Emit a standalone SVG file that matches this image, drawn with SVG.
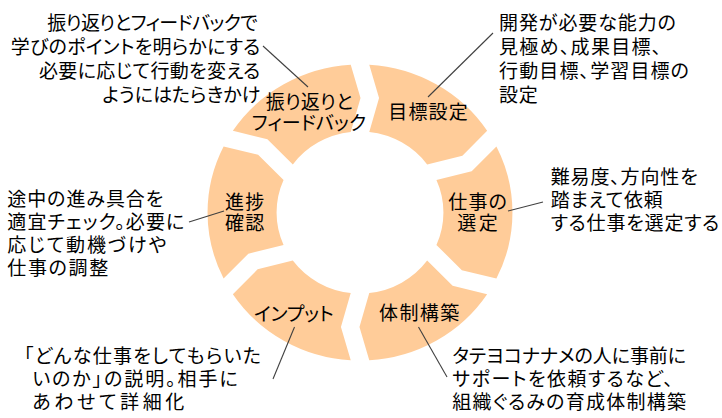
<svg xmlns="http://www.w3.org/2000/svg" width="722" height="418" viewBox="0 0 722 418">
<style>
.seg{fill:#FFCC99;stroke:none}
text{font-family:"Noto Sans CJK JP","Noto Sans CJK SC",sans-serif;font-size:19px;fill:#000;font-feature-settings:"palt" 1}
.conn line{stroke:#404040;stroke-width:1.1;fill:none}
</style>
<rect width="722" height="418" fill="#FFFFFF"/>
<g id="ring" transform="translate(360,212.5) scale(1.03,1)">
<path id="seg-goal" class="seg" d="M9,-147.726 A148,148 0 0 1 123.434,-81.657 L99.410,-56.817 L65.213,-48.043 A81,81 0 0 0 9,-80.498 L18.5,-114.5 Z"/>
<path id="seg-select" class="seg" d="M132.434,-66.069 A148,148 0 0 1 132.434,66.069 L98.910,57.683 L74.213,32.455 A81,81 0 0 0 74.213,-32.455 L108.410,-41.229 Z"/>
<path id="seg-system" class="seg" d="M123.434,81.657 A148,148 0 0 1 9,147.726 L-0.5,114.5 L9,80.498 A81,81 0 0 0 65.213,48.043 L89.910,73.271 Z"/>
<path id="seg-input" class="seg" d="M-9,147.726 A148,148 0 0 1 -123.434,81.657 L-99.410,56.817 L-65.213,48.043 A81,81 0 0 0 -9,80.498 L-18.5,114.5 Z"/>
<path id="seg-progress" class="seg" d="M-132.434,66.069 A148,148 0 0 1 -132.434,-66.069 L-98.910,-57.683 L-74.213,-32.455 A81,81 0 0 0 -74.213,32.455 L-108.410,41.229 Z"/>
<path id="seg-review" class="seg" d="M-123.434,-81.657 A148,148 0 0 1 -9,-147.726 L0.5,-114.5 L-9,-80.498 A81,81 0 0 0 -65.213,-48.043 L-89.910,-73.271 Z"/>
</g>
<g id="connectors" class="conn">
<line x1="263" y1="46" x2="308" y2="87"/>
<line x1="493" y1="33" x2="428" y2="97"/>
<line x1="543" y1="202" x2="508" y2="211"/>
<line x1="189" y1="222" x2="224" y2="211"/>
<line x1="273" y1="379" x2="294.5" y2="327"/>
<line x1="418.5" y1="327" x2="447" y2="377"/>
</g>
<g id="node-goal">
<text x="388.3" y="118.5" textLength="79.4" lengthAdjust="spacing">目標設定</text>
<text><tspan x="499" y="30" textLength="177" lengthAdjust="spacing">開発が必要な能力の</tspan><tspan x="499" y="54" textLength="162.3" lengthAdjust="spacing">見極め、成果目標、</tspan><tspan x="499" y="78" textLength="190" lengthAdjust="spacing">行動目標、学習目標の</tspan><tspan x="499" y="101.5" textLength="38.7" lengthAdjust="spacing">設定</tspan></text>
</g>
<g id="node-select">
<text><tspan x="448.3" y="208.5" textLength="58.7" lengthAdjust="spacing">仕事の</tspan><tspan x="457.3" y="230" textLength="40.4" lengthAdjust="spacing">選定</tspan></text>
<text><tspan x="550.7" y="183.5" textLength="147" lengthAdjust="spacing">難易度、方向性を</tspan><tspan x="550.7" y="207" textLength="112" lengthAdjust="spacing">踏まえて依頼</tspan><tspan x="550.7" y="230" textLength="168.6" lengthAdjust="spacing">する仕事を選定する</tspan></text>
</g>
<g id="node-system">
<text x="379" y="320" textLength="80.3" lengthAdjust="spacing">体制構築</text>
<text><tspan x="452.3" y="363" textLength="233.7" lengthAdjust="spacing">タテヨコナナメの人に事前に</tspan><tspan x="452.3" y="386" textLength="220.7" lengthAdjust="spacing">サポートを依頼するなど、</tspan><tspan x="452.3" y="408.5" textLength="233.7" lengthAdjust="spacing">組織ぐるみの育成体制構築</tspan></text>
</g>
<g id="node-input">
<text x="254" y="320.5" textLength="79.7" lengthAdjust="spacing">インプット</text>
<text><tspan x="24" y="363" textLength="237" lengthAdjust="spacing">「どんな仕事をしてもらいた</tspan><tspan x="32.3" y="386" textLength="205.4" lengthAdjust="spacing">いのか」の説明。相手に</tspan><tspan x="32.3" y="408.5" textLength="152" lengthAdjust="spacing">あわせて詳細化</tspan></text>
</g>
<g id="node-progress">
<text><tspan x="225" y="208.5" textLength="39.3" lengthAdjust="spacing">進捗</tspan><tspan x="225" y="230" textLength="39.3" lengthAdjust="spacing">確認</tspan></text>
<text><tspan x="7.3" y="205.5" textLength="156" lengthAdjust="spacing">途中の進み具合を</tspan><tspan x="7.3" y="228.5" textLength="177" lengthAdjust="spacing">適宜チェック。必要に</tspan><tspan x="7.3" y="251.5" textLength="159" lengthAdjust="spacing">応じて動機づけや</tspan><tspan x="7.3" y="275" textLength="101" lengthAdjust="spacing">仕事の調整</tspan></text>
</g>
<g id="node-review">
<text><tspan x="265.7" y="108.5" textLength="87" lengthAdjust="spacing">振り返りと</tspan><tspan x="251.7" y="129.5" textLength="114.3" lengthAdjust="spacing">フィードバック</tspan></text>
<text><tspan x="47.3" y="30" textLength="210.4" lengthAdjust="spacing">振り返りとフィードバックで</tspan><tspan x="10.7" y="54" textLength="249.6" lengthAdjust="spacing">学びのポイントを明らかにする</tspan><tspan x="39" y="78" textLength="221.3" lengthAdjust="spacing">必要に応じて行動を変える</tspan><tspan x="102.3" y="101.5" textLength="158" lengthAdjust="spacing">ようにはたらきかけ</tspan></text>
</g>
</svg>
